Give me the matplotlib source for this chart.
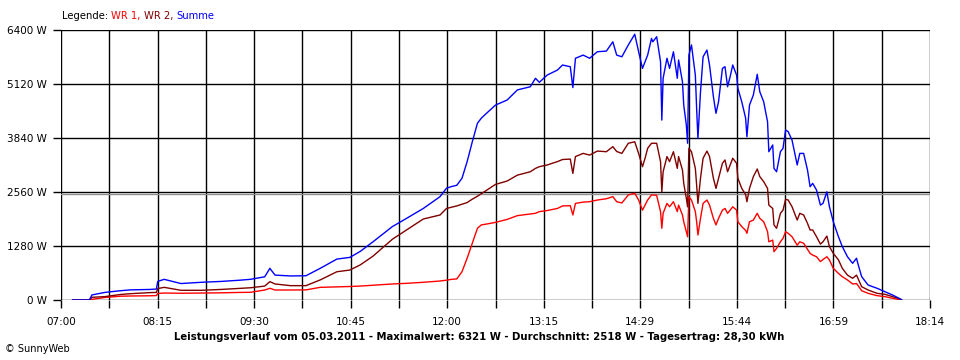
import numpy as np
import matplotlib
matplotlib.use("Agg")
import matplotlib.pyplot as plt

# Leistungsverlauf 05.03.2011
zeiten = [
    "07:09", "07:22", "07:24", "07:34", "07:46", "07:54", "08:09", "08:14", "08:15", "08:20",
    "08:33", "08:49", "09:04", "09:19", "09:27", "09:38", "09:42", "09:46", "09:58", "10:10",
    "10:21", "10:34", "10:44", "10:52", "11:02", "11:17", "11:28", "11:41", "11:54", "11:59",
    "12:03", "12:07", "12:11", "12:15", "12:19", "12:23", "12:26", "12:30", "12:37", "12:46",
    "12:54", "13:04", "13:08", "13:11", "13:17", "13:25", "13:29", "13:35", "13:37", "13:39",
    "13:45", "13:50", "13:56", "14:03", "14:08", "14:11", "14:15", "14:20", "14:25", "14:28",
    "14:31", "14:33", "14:35", "14:38", "14:39", "14:42", "14:45", "14:46", "14:47", "14:50",
    "14:52", "14:55", "14:58", "14:59", "15:02", "15:03", "15:05", "15:06", "15:07", "15:09",
    "15:12", "15:13", "15:14", "15:16", "15:18", "15:21", "15:23", "15:26", "15:28", "15:30",
    "15:33", "15:35", "15:37", "15:39", "15:41", "15:44", "15:45", "15:48", "15:51", "15:52",
    "15:54", "15:57", "16:00", "16:02", "16:05", "16:08", "16:09", "16:12", "16:13", "16:15",
    "16:18", "16:20", "16:22", "16:24", "16:27", "16:31", "16:33", "16:36", "16:39", "16:41",
    "16:43", "16:46", "16:49", "16:51", "16:54", "16:56", "16:59", "17:03", "17:06", "17:10",
    "17:14", "17:17", "17:18", "17:21", "17:26", "17:33", "17:39", "17:45", "17:51", "17:52",
]

wr1 = [
    0, 0, 15, 60, 90, 95, 100, 105, 155, 165,
    160, 165, 170, 180, 182, 237, 277, 237, 237, 240,
    300, 310, 320, 330, 350, 380, 395, 420, 450, 470,
    490, 500, 670, 990, 1345, 1700, 1780, 1800, 1840, 1910,
    2000, 2040, 2055, 2095, 2120, 2170, 2230, 2235, 2015, 2290,
    2320, 2330, 2370, 2400, 2450, 2330, 2300, 2490, 2530, 2370,
    2130, 2250, 2370, 2490, 2490, 2480, 2095, 1700, 2055, 2290,
    2210, 2330, 2095, 2250, 2015, 1855, 1620, 1500, 2450, 2370,
    2095, 1855, 1540, 1935, 2290, 2370, 2250, 1935, 1780, 1935,
    2130, 2170, 2055, 2130, 2210, 2130, 1855, 1740, 1650, 1580,
    1855, 1895, 2055, 1935, 1855, 1620, 1380, 1420, 1145, 1225,
    1380, 1460, 1620, 1580, 1500, 1300, 1380, 1345, 1200, 1105,
    1065, 1025, 910, 960, 1025, 950, 750, 630, 553, 475,
    380, 390, 350, 220, 158, 103, 80, 40, 8, 0,
]

wr2 = [
    0, 0, 64, 80, 130, 150, 175, 180, 270, 300,
    230, 230, 250, 275, 290, 330, 435, 380, 340, 340,
    475, 670, 710, 830, 1040, 1440, 1660, 1920, 2015, 2170,
    2200, 2230, 2270, 2310, 2390, 2460, 2520, 2600, 2740, 2820,
    2960, 3040, 3120, 3160, 3200, 3280, 3330, 3340, 3000, 3400,
    3475, 3435, 3530, 3515, 3635, 3520, 3475, 3715, 3750, 3475,
    3160, 3360, 3595, 3715, 3715, 3715, 3280, 2565, 3040, 3400,
    3280, 3515, 3120, 3400, 3080, 2765, 2410, 2210, 3595, 3515,
    3120, 2725, 2290, 2885, 3360, 3530, 3400, 2885, 2645, 2885,
    3240, 3320, 3040, 3200, 3360, 3240, 2885, 2645, 2500, 2330,
    2645, 2925, 3105, 2925, 2805, 2645, 2250, 2170, 1780, 1700,
    2055, 2130, 2385, 2370, 2210, 1895, 2055, 2015, 1815, 1660,
    1660, 1500, 1325, 1380, 1515, 1265, 1105, 950, 750, 590,
    515, 590, 520, 315, 237, 158, 135, 80, 24, 0,
]

summe = [
    0, 0, 120, 180, 220, 240, 250, 260, 440, 490,
    390, 420, 440, 470, 490, 550, 750, 590, 570, 575,
    750, 970, 1010, 1150, 1380, 1740, 1935, 2170, 2450, 2650,
    2690, 2720, 2885, 3280, 3750, 4190, 4310, 4425, 4620, 4740,
    4980, 5055, 5255, 5160, 5330, 5450, 5570, 5530, 5035, 5730,
    5805, 5730, 5885, 5900, 6120, 5805, 5765, 6045, 6300, 5885,
    5490, 5650, 5805, 6200, 6120, 6240, 5650, 4265, 5255, 5730,
    5490, 5885, 5255, 5690, 5175, 4620, 4150, 3715, 5805, 6045,
    5330, 4540, 3830, 4935, 5765, 5925, 5570, 4820, 4425, 4700,
    5490, 5530, 5055, 5295, 5570, 5330, 5015, 4700, 4310, 3870,
    4620, 4860, 5350, 4935, 4700, 4225, 3515, 3675, 3120, 3040,
    3515, 3595, 4030, 3990, 3790, 3200, 3475, 3475, 3080, 2685,
    2765, 2605, 2250, 2290, 2565, 2210, 1855, 1500, 1265, 1025,
    870, 990, 870, 553, 355, 277, 198, 118, 24, 0,
]

durchschnitt = 2518  # W
y_ticks = [0, 1280, 2560, 3840, 5120, 6400]
x_labels = ["07:00", "08:15", "09:30", "10:45", "12:00", "13:15", "14:29", "15:44", "16:59", "18:14"]

t = np.array([int(z[:2]) * 60 + int(z[3:]) for z in zeiten])
t0, t1 = 7 * 60, 18 * 60 + 14

plt.rcParams["font.family"] = ["DejaVu Sans"]
fig = plt.figure(figsize=(9.6, 3.6), dpi=100)
ax = fig.add_axes([61 / 960, 60 / 360, 869 / 960, 270 / 360])

# Gitter: 18 Spalten, Beschriftung jede zweite
x_grid = np.linspace(t0, t1, 19)
for xg in x_grid:
    ax.axvline(xg, color="black", lw=1, zorder=1)
for yg in y_ticks:
    ax.axhline(yg, color="black", lw=1, zorder=1)
ax.axhline(durchschnitt, color="#909090", lw=1, zorder=1)

ax.plot(t, wr1, color="#ff0000", lw=1.0, zorder=3)
ax.plot(t, wr2, color="#800000", lw=1.0, zorder=3)
ax.plot(t, summe, color="#0000ff", lw=1.0, zorder=3)

ax.set_xlim(t0, t1)
ax.set_ylim(0, 6400)
ax.set_xticks(x_grid)
ax.set_xticklabels([x_labels[i // 2] if i % 2 == 0 else "" for i in range(19)])
ax.set_yticks(y_ticks)
ax.set_yticklabels([f"{v} W" for v in y_ticks])
ax.tick_params(direction="out", length=6, width=1, color="black", labelsize=7.5, pad=4)
ax.tick_params(axis="x", pad=6)
for s in ax.spines.values():
    s.set_visible(False)

# Legende oben links
fs = 7.2
x = 62
for txt, col in [("Legende: ", "black"), ("WR 1, ", "#ff0000"), ("WR 2, ", "#800000"), ("Summe", "#0000ff")]:
    tx = fig.text(x / 960, 1 - 16 / 360, txt, color=col, fontsize=fs, va="center", ha="left")
    fig.canvas.draw()
    bb = tx.get_window_extent()
    x += bb.width

fig.text(479 / 960, 1 - 337 / 360,
         "Leistungsverlauf vom 05.03.2011 - Maximalwert: 6321 W - Durchschnitt: 2518 W - Tagesertrag: 28,30 kWh",
         fontsize=7.3, fontweight="bold", ha="center", va="center")
fig.text(5 / 960, 1 - 349 / 360, "© SunnyWeb", fontsize=7, ha="left", va="center")

fig.savefig("out.png", dpi=100)
